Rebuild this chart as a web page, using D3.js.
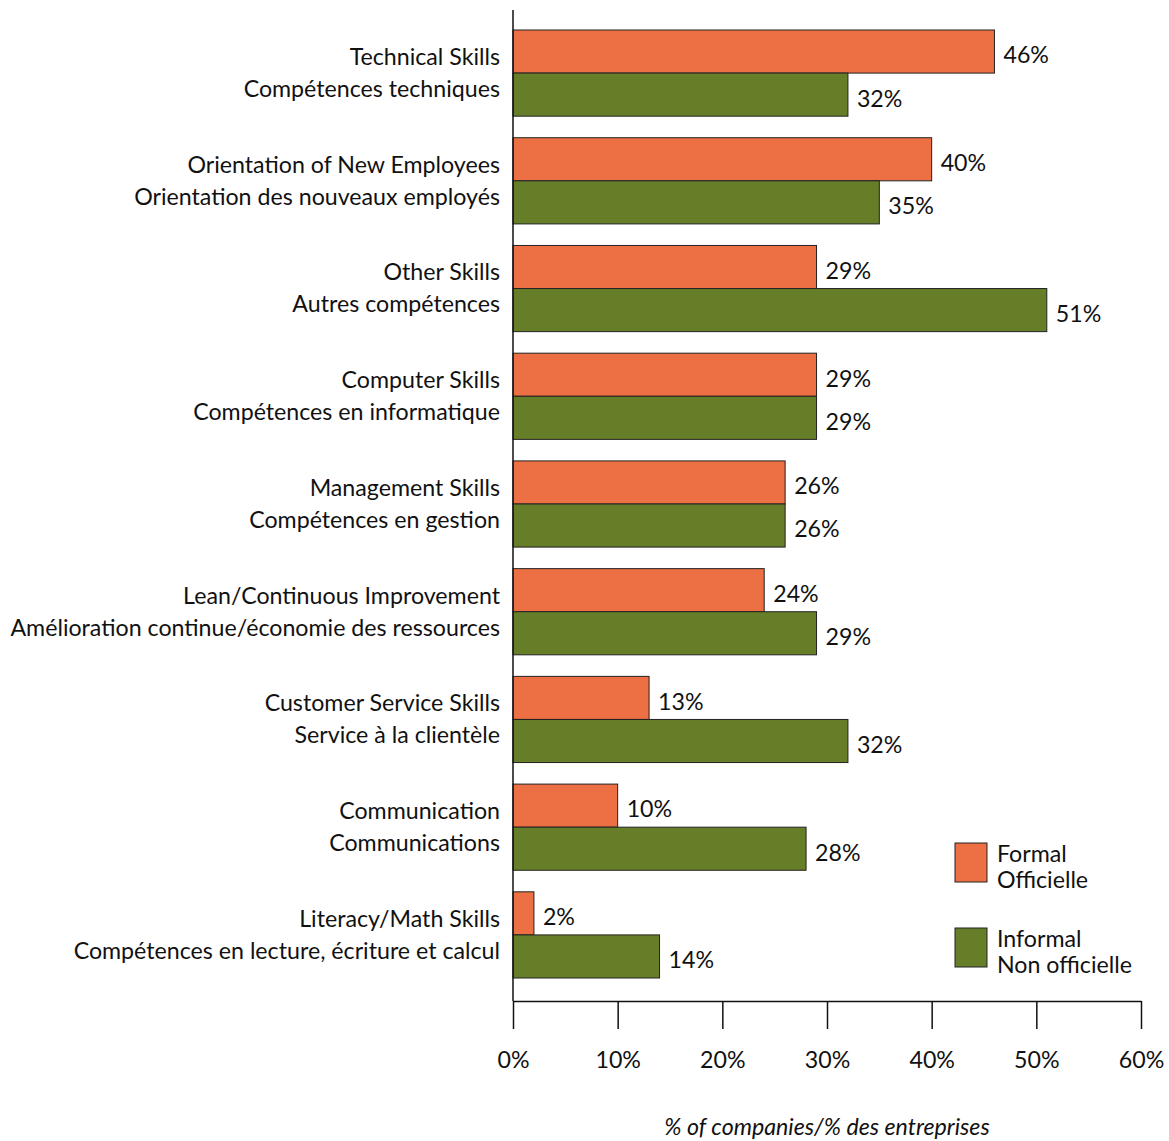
<!DOCTYPE html>
<html>
<head>
<meta charset="utf-8">
<script src="https://cdn.jsdelivr.net/npm/d3@7"></script>
<style>
  html, body { margin: 0; padding: 0; background: #ffffff; }
  svg { display: block; }
  text { font-family: "Lato", "Open Sans", sans-serif; fill: #111; }
</style>
</head>
<body>
<svg id="chart" width="1169" height="1141"></svg>
<script>
// Training categories (English / French)
const categoriesEn = [
  "Technical Skills",
  "Orientation of New Employees",
  "Other Skills",
  "Computer Skills",
  "Management Skills",
  "Lean/Continuous Improvement",
  "Customer Service Skills",
  "Communication",
  "Literacy/Math Skills"
];
const categoriesFr = [
  "Compétences techniques",
  "Orientation des nouveaux employés",
  "Autres compétences",
  "Compétences en informatique",
  "Compétences en gestion",
  "Amélioration continue/économie des ressources",
  "Service à la clientèle",
  "Communications",
  "Compétences en lecture, écriture et calcul"
];
// % of companies offering each kind of training
const formalValues   = [46, 40, 29, 29, 26, 24, 13, 10, 2];
const informalValues = [32, 35, 51, 29, 26, 29, 32, 28, 14];
const xTicks = [0, 10, 20, 30, 40, 50, 60];
const seriesKeys = ["formal", "informal"];
const seriesLabels = [["Formal", "Officielle"], ["Informal", "Non officielle"]];
const seriesColors = ["#ec7043", "#677e29"];

const svg = d3.select("#chart");
const fontSize = 23.2;

const x = d3.scaleLinear().domain([0, 60]).range([513, 1141]);
const y = d3.scaleBand().domain(categoriesEn).range([30, 978]).paddingInner(0.2).paddingOuter(0);
const ySub = d3.scaleBand().domain(seriesKeys).range([0, y.bandwidth()]);
const color = d3.scaleOrdinal().domain(seriesKeys).range(seriesColors);

const rows = categoriesEn.map((c, i) => ({
  en: c, fr: categoriesFr[i],
  values: [
    { key: "formal", v: formalValues[i] },
    { key: "informal", v: informalValues[i] }
  ]
}));

// Bars
const groups = svg.append("g").selectAll("g").data(rows).join("g")
  .attr("transform", d => `translate(0,${y(d.en)})`);

groups.selectAll("rect").data(d => d.values).join("rect")
  .attr("x", x(0))
  .attr("y", d => ySub(d.key))
  .attr("width", d => x(d.v) - x(0))
  .attr("height", ySub.bandwidth())
  .attr("fill", d => color(d.key))
  .attr("stroke", "#222")
  .attr("stroke-width", 1);

// Value labels
groups.selectAll("text.val").data(d => d.values).join("text")
  .attr("class", "val")
  .attr("x", d => x(d.v) + 9)
  .attr("y", d => ySub(d.key) + ySub.bandwidth() / 2 + 6)
  .attr("dominant-baseline", "middle")
  .attr("font-size", fontSize)
  .text(d => d.v + "%");

// Category labels (two lines)
groups.append("text")
  .attr("x", 500).attr("y", y.bandwidth() / 2 - 14)
  .attr("text-anchor", "end").attr("dominant-baseline", "middle")
  .attr("font-size", fontSize)
  .text(d => d.en);
groups.append("text")
  .attr("x", 500).attr("y", y.bandwidth() / 2 + 18)
  .attr("text-anchor", "end").attr("dominant-baseline", "middle")
  .attr("font-size", fontSize)
  .text(d => d.fr);

// Vertical baseline
svg.append("line")
  .attr("x1", x(0)).attr("x2", x(0))
  .attr("y1", 10).attr("y2", 1001)
  .attr("stroke", "#111").attr("stroke-width", 1.5);

// X axis
const xAxis = svg.append("g")
  .attr("transform", "translate(0,1001)")
  .call(d3.axisBottom(x).tickValues(xTicks).tickSize(28).tickSizeOuter(0)
    .tickFormat(d => d + "%"));
xAxis.select(".domain").attr("stroke", "#111").attr("stroke-width", 1.5);
xAxis.selectAll(".tick line").attr("stroke", "#111").attr("stroke-width", 1.5);
xAxis.selectAll(".tick text")
  .attr("y", 51).attr("font-size", fontSize)
  .attr("font-family", "Lato, 'Open Sans', sans-serif").attr("fill", "#111");

// Axis title
svg.append("text")
  .attr("x", 827).attr("y", 1135)
  .attr("text-anchor", "middle")
  .attr("font-size", fontSize).attr("font-style", "italic")
  .text("% of companies/% des entreprises");

// Legend
const legend = svg.append("g").selectAll("g").data(seriesKeys).join("g")
  .attr("transform", (d, i) => `translate(955,${843 + i * 85})`);
legend.append("rect")
  .attr("width", 32).attr("height", 39)
  .attr("fill", d => color(d)).attr("stroke", "#222").attr("stroke-width", 1);
legend.each(function(d, i) {
  const g = d3.select(this);
  seriesLabels[i].forEach((t, j) => {
    g.append("text").attr("x", 42).attr("y", 19 + j * 26)
      .attr("font-size", fontSize).text(t);
  });
});
</script>
</body>
</html>
